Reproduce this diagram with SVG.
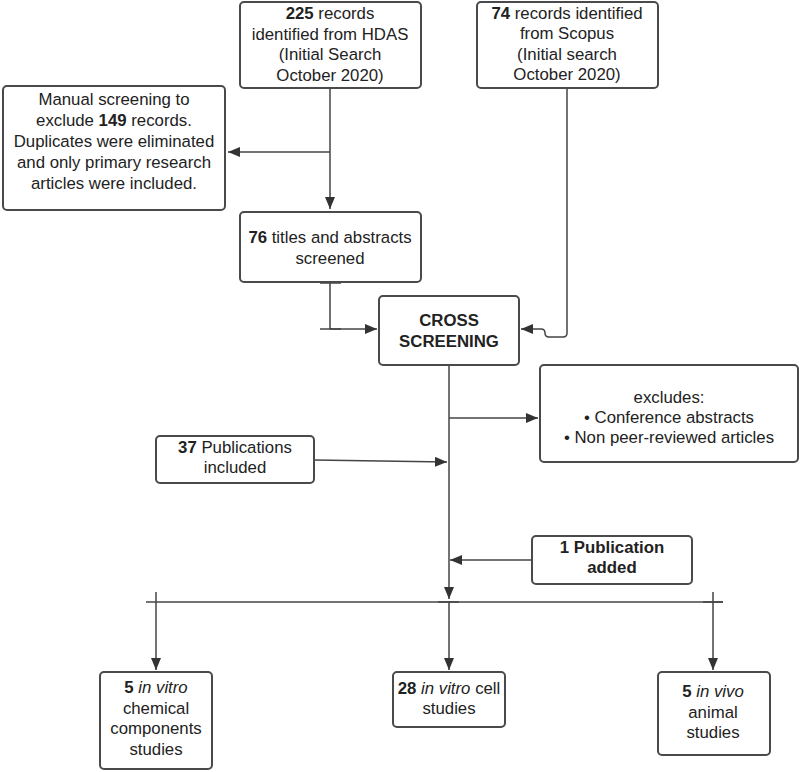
<svg xmlns="http://www.w3.org/2000/svg" width="800" height="772" viewBox="0 0 800 772">
<style>
.box{fill:#fff;stroke:#4a4a4a;stroke-width:2}
.t{font-family:"Liberation Sans",Arial,sans-serif;font-size:16.8px;fill:#222;text-anchor:middle}
.b{font-weight:bold}
.i{font-style:italic}
.ln{fill:none;stroke:#444;stroke-width:1.5}
</style>
<defs>
<marker id="ar" viewBox="0 0 12 10" refX="12" refY="5" markerWidth="12" markerHeight="10" markerUnits="userSpaceOnUse" orient="auto">
<path d="M0,0 L12,5 L0,10 Z" fill="#333"/>
</marker>
</defs>
<rect width="800" height="772" fill="#fff"/>
<g id="connectors">
<path class="ln" d="M330,88 V209" marker-end="url(#ar)"/>
<path class="ln" d="M330,152 H228" marker-end="url(#ar)"/>
<path class="ln" d="M320,283 H341 M330,283 V329 M320,329 H341"/>
<path class="ln" d="M330,329 H377" marker-end="url(#ar)"/>
<path class="ln" d="M567,88 V333 Q567,337 563,337 H549 Q545,337 545,333 Q545,329 541,329 H521" marker-end="url(#ar)"/>
<path class="ln" d="M449,366 V599" marker-end="url(#ar)"/>
<path class="ln" d="M449,418 H538" marker-end="url(#ar)"/>
<path class="ln" d="M314,460 L447,462" marker-end="url(#ar)"/>
<path class="ln" d="M532,560 H450" marker-end="url(#ar)"/>
<path class="ln" d="M146,602 H723"/>
<path class="ln" d="M156,592 V670" marker-end="url(#ar)"/>
<path class="ln" d="M713,592 V612 M703,602 H723 M713,602 V670" marker-end="url(#ar)"/>
<path class="ln" d="M438,602 H459 M449,602 V670" marker-end="url(#ar)"/>
</g>
<g id="hdas">
<rect class="box" x="240" y="2" width="181" height="86" rx="4"/>
<text class="t" x="330" y="19"><tspan class="b">225</tspan> records</text>
<text class="t" x="330" y="40">identified from HDAS</text>
<text class="t" x="330" y="60">(Initial Search</text>
<text class="t" x="330" y="81">October 2020)</text>
</g>
<g id="scopus">
<rect class="box" x="477" y="2" width="181" height="86" rx="4"/>
<text class="t" x="567" y="19"><tspan class="b">74</tspan> records identified</text>
<text class="t" x="567" y="39">from Scopus</text>
<text class="t" x="567" y="60">(Initial search</text>
<text class="t" x="567" y="80">October 2020)</text>
</g>
<g id="manual">
<rect class="box" x="3" y="86" width="222" height="124" rx="4"/>
<text class="t" x="114" y="105">Manual screening to</text>
<text class="t" x="114" y="126">exclude <tspan class="b">149</tspan> records.</text>
<text class="t" x="114" y="147">Duplicates were eliminated</text>
<text class="t" x="114" y="168">and only primary research</text>
<text class="t" x="114" y="189">articles were included.</text>
</g>
<g id="screened">
<rect class="box" x="240" y="212" width="181" height="70" rx="4"/>
<text class="t" x="330" y="243"><tspan class="b">76</tspan> titles and abstracts</text>
<text class="t" x="330" y="264">screened</text>
</g>
<g id="cross">
<rect class="box" x="379" y="296" width="140" height="69" rx="4"/>
<text class="t b" x="449" y="326">CROSS</text>
<text class="t b" x="449" y="347">SCREENING</text>
</g>
<g id="excludes">
<rect class="box" x="540" y="365" width="258" height="97" rx="4"/>
<text class="t" x="669" y="403">excludes:</text>
<text class="t" x="669" y="423">• Conference abstracts</text>
<text class="t" x="669" y="443">• Non peer-reviewed articles</text>
</g>
<g id="included">
<rect class="box" x="156" y="436" width="158" height="47" rx="4"/>
<text class="t" x="235" y="453"><tspan class="b">37</tspan> Publications</text>
<text class="t" x="235" y="473">included</text>
</g>
<g id="added">
<rect class="box" x="532" y="536" width="160" height="48" rx="4"/>
<text class="t b" x="612" y="553">1 Publication</text>
<text class="t b" x="612" y="573">added</text>
</g>
<g id="chemical">
<rect class="box" x="100" y="672" width="112" height="97" rx="4"/>
<text class="t" x="156" y="693"><tspan class="b">5</tspan> <tspan class="i">in vitro</tspan></text>
<text class="t" x="156" y="714">chemical</text>
<text class="t" x="156" y="734">components</text>
<text class="t" x="156" y="755">studies</text>
</g>
<g id="cell">
<rect class="box" x="393" y="672" width="112" height="55" rx="4"/>
<text class="t" x="449" y="694"><tspan class="b">28</tspan> <tspan class="i">in vitro</tspan> cell</text>
<text class="t" x="449" y="714">studies</text>
</g>
<g id="animal">
<rect class="box" x="658" y="672" width="112" height="83" rx="4"/>
<text class="t" x="713" y="697"><tspan class="b">5</tspan> <tspan class="i">in vivo</tspan></text>
<text class="t" x="713" y="718">animal</text>
<text class="t" x="713" y="738">studies</text>
</g>
</svg>
